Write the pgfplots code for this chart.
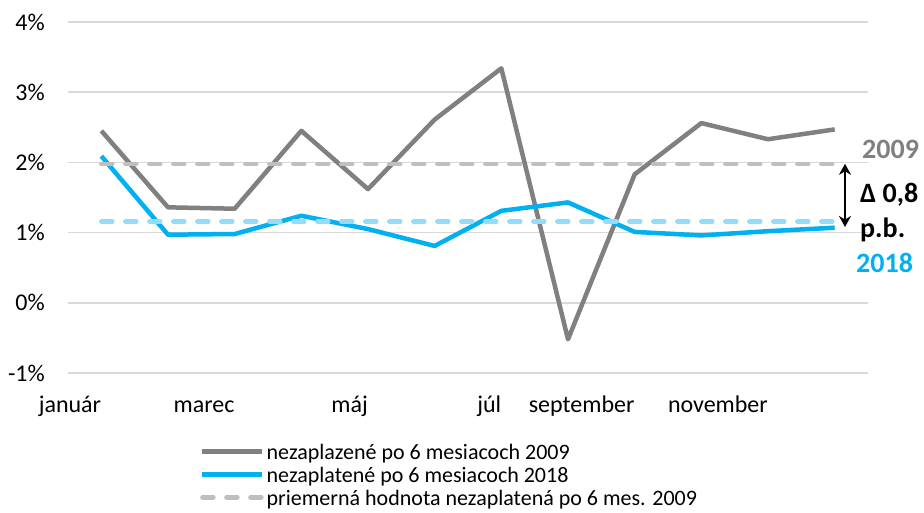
\documentclass[border=0pt]{standalone}
\usepackage{pgfplots}
\pgfplotsset{compat=1.18}
\usetikzlibrary{arrows.meta}
\usepackage{fontspec}
\setmainfont{Carlito}
\definecolor{gA}{HTML}{808080}
\definecolor{bA}{HTML}{00B0F0}
\definecolor{gD}{HTML}{BFBFBF}
\definecolor{bD}{HTML}{95DCF8}
\definecolor{gridc}{HTML}{D9D9D9}
\begin{document}
\begin{tikzpicture}[x=1pt,y=1pt]
\useasboundingbox (0,0) rectangle (924,512);
\begin{axis}[
  at={(68pt,139pt)}, anchor=south west,
  scale only axis, width=800pt, height=351pt,
  xmin=-0.5, xmax=11.5, ymin=-1, ymax=4,
  axis line style={draw=none},
  major tick length=0pt,
  ytick={-1,0,1,2,3,4},
  yticklabels={-1\%,0\%,1\%,2\%,3\%,4\%},
  ymajorgrids, grid style={gridc, line width=1.5pt},
  xtick={0,2,4,6,8,10},
  xticklabels={január,marec,máj,júl,september,november},
  x tick label style={anchor=base east, inner sep=0pt, yshift=-39pt, font=\fontsize{24}{28}\selectfont},
  y tick label style={anchor=east, inner sep=0pt, xshift=-23pt, font=\fontsize{24}{28}\selectfont},
  clip=false,
  legend style={at={(0.165,-0.19)}, anchor=north west, draw=none, fill=none,
    font=\fontsize{22}{25}\selectfont, row sep=0pt, inner sep=0pt,
    cells={anchor=west, text height=17.5pt, text depth=8pt}},
  legend cell align=left,
  legend image code/.code={\draw[#1] (0pt,0pt) -- (60pt,0pt);},
]
\addplot[gA, line width=4.5pt, line join=round] coordinates {
 (0,2.45) (1,1.36) (2,1.34) (3,2.45) (4,1.62) (5,2.61) (6,3.34) (7,-0.52) (8,1.83) (9,2.56) (10,2.33) (11,2.47)};
\addlegendentry{nezaplazené po 6 mesiacoch 2009}
\addplot[bA, line width=4.5pt, line join=round] coordinates {
 (0,2.09) (1,0.97) (2,0.98) (3,1.24) (4,1.05) (5,0.81) (6,1.31) (7,1.43) (8,1.01) (9,0.96) (10,1.02) (11,1.07)};
\addlegendentry{nezaplatené po 6 mesiacoch 2018}
\addplot[gD, line width=4.5pt, line cap=round, dash pattern=on 11pt off 13pt] coordinates {(0,1.98) (11,1.98)};
\addlegendentry{priemerná hodnota nezaplatená po 6 mes. 2009}
\addplot[bD, line width=4.5pt, line cap=round, dash pattern=on 11pt off 13pt, forget plot] coordinates {(0,1.16) (11,1.16)};
\draw[black, line width=1.8pt, {Stealth[length=11pt,width=12pt]}-{Stealth[length=11pt,width=12pt]}] (axis cs:11.155,1.98) -- (axis cs:11.155,1.08);
\node[anchor=west, inner sep=0pt, text=gA, font=\fontsize{28}{30}\selectfont\bfseries] at (axis cs:11.41,2.186) {2009};
\node[anchor=west, inner sep=0pt, font=\fontsize{28}{30}\selectfont\bfseries] at (axis cs:11.38,1.543) {Δ 0,8};
\node[anchor=west, inner sep=0pt, font=\fontsize{28}{30}\selectfont\bfseries] at (axis cs:11.38,1.04) {p.b.};
\node[anchor=west, inner sep=0pt, text=bA, font=\fontsize{28}{30}\selectfont\bfseries] at (axis cs:11.32,0.571) {2018};
\end{axis}
\end{tikzpicture}
\end{document}
